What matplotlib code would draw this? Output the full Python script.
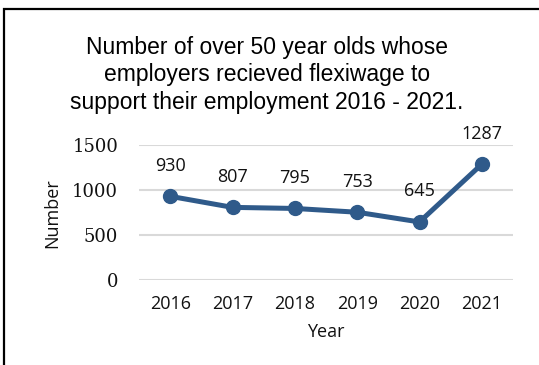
import matplotlib
matplotlib.use('Agg')
import matplotlib.pyplot as plt
from matplotlib.patches import Rectangle

years = ['2016', '2017', '2018', '2019', '2020', '2021']
counts = [930, 807, 795, 753, 645, 1287]
yticks = [0, 500, 1000, 1500]

W, H = 539, 365
fig = plt.figure(figsize=(W / 100, H / 100), dpi=100)

# chart area outline (runs off the right and bottom edges)
fig.patches.append(Rectangle((4 / W, -0.05), 1.0, 1 - 9 / H + 0.05,
                             transform=fig.transFigure, fill=False,
                             edgecolor='black', linewidth=1.6))

ax = fig.add_axes([139 / W, 1 - 280 / H, (513 - 139) / W, (280 - 145) / H])
x = list(range(len(years)))
ax.plot(x, counts, color='#2F5A8A', linewidth=3.6, marker='o',
        markersize=10, solid_capstyle='round', zorder=3, clip_on=False)

for xi, v in zip(x, counts):
    ax.annotate(str(v), (xi, v), xytext=(0, 22), textcoords='offset points',
                ha='center', va='center', fontsize=13, family='Open Sans',
                color='#111111', annotation_clip=False)

ax.set_xlim(-0.5, len(years) - 0.5)
ax.set_ylim(0, 1500)
ax.set_yticks(yticks)
ax.set_yticklabels([str(t) for t in yticks], family='DejaVu Serif',
                   fontsize=13)
ax.set_xticks(x)
ax.set_xticklabels(years, family='Open Sans', fontsize=13)
ax.tick_params(length=0, pad=11, labelcolor='#111111')
ax.tick_params(axis='y', pad=15)
ax.grid(axis='y', color='#D9D9D9', linewidth=1.5)
ax.set_axisbelow(True)
for s in ax.spines.values():
    s.set_visible(False)

ax.set_xlabel('Year', family='Open Sans', fontsize=13, labelpad=7,
              color='#111111')
fig.text(52 / W, 1 - 213 / H, 'Number', rotation=90, ha='center',
         va='center', family='Open Sans', fontsize=13, color='#111111')

fig.text(267 / W, 1 - 75 / H,
         'Number of over 50 year olds whose\n'
         'employers recieved flexiwage to\n'
         'support their employment 2016 - 2021.',
         ha='center', va='center', family='Liberation Sans', fontsize=16.5,
         linespacing=1.25)

fig.savefig('out.png', dpi=100)
